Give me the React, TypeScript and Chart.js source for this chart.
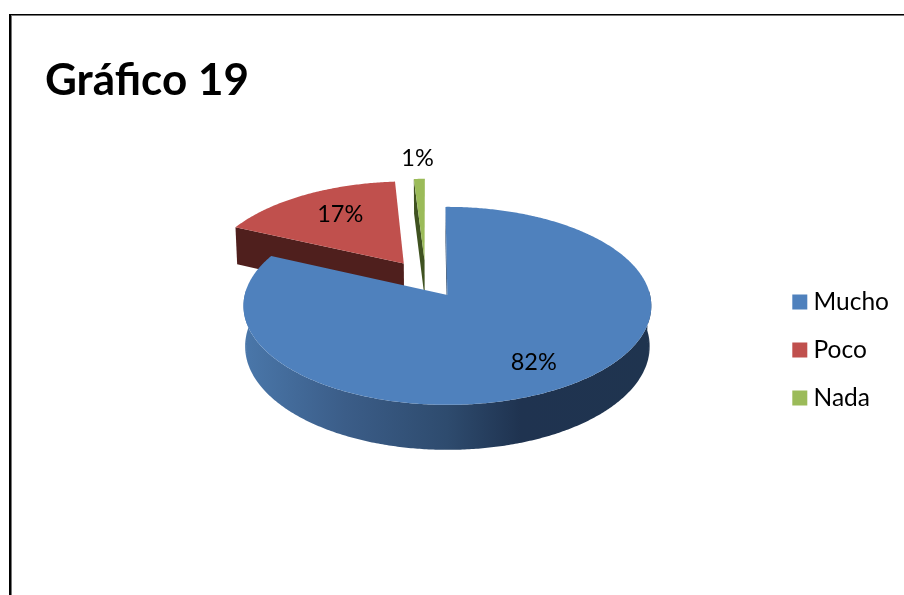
import { useEffect, useRef } from "react";
import { Chart, registerables } from "chart.js";

Chart.register(...registerables);

const categories = ["Mucho", "Poco", "Nada"];
const shares = [82, 17, 1];
const topColors = ["#4f81bd", "#c0504d", "#9bbb59"];
const wallColors = ["#1f344f", "#4f1f1d", "#3f5220"];
const labelRadii = [0.76, 0.7, 1.29];
const labelNudges = [-4, 7.5, -0.5];
const chartTitle = "Gráfico 19";

// Perspective camera for the tilted pie: unit disc to canvas pixels.
const camera = { x0: 447, y0: 295, ax: 202.7, ay: 97.8, k: 0.111, depth: 40, taper: 0.008 };
const pieCentre = { u: -0.107, v: 0.169 };
const explode = 0.2;

function project(u: number, v: number, z = 0) {
  const w = 1 + camera.k * v;
  return {
    x: camera.x0 + ((camera.ax * u) / w) * (1 - camera.taper * z),
    y: camera.y0 - (camera.ay * v) / w + (camera.depth * z) / w,
  };
}

type Pt = { x: number; y: number };

function addPolygon(ctx: CanvasRenderingContext2D, pts: Pt[]) {
  pts.forEach((p, i) => (i ? ctx.lineTo(p.x, p.y) : ctx.moveTo(p.x, p.y)));
  ctx.closePath();
}

// Replaces the flat arcs with extruded wedges, using the angles Chart.js computed.
const tiltedPie = {
  id: "tiltedPie",
  beforeDatasetsDraw(chart: Chart) {
    const ctx = chart.ctx;
    const meta = chart.getDatasetMeta(0);
    const wedges = meta.data.map((el: any, i: number) => {
      const a0 = el.startAngle + Math.PI / 2;
      const a1 = el.endAngle + Math.PI / 2;
      const mid = (a0 + a1) / 2;
      const apex = {
        u: pieCentre.u + explode * Math.sin(mid),
        v: pieCentre.v + explode * Math.cos(mid),
      };
      const steps = Math.max(4, Math.ceil((a1 - a0) / 0.01));
      const rim: { u: number; v: number; a: number }[] = [];
      for (let s = 0; s <= steps; s++) {
        const a = a0 + ((a1 - a0) * s) / steps;
        rim.push({ u: apex.u + Math.sin(a), v: apex.v + Math.cos(a), a });
      }
      return { i, mid, apex, rim };
    });

    const wallGradient = ctx.createLinearGradient(243, 0, 651, 0);
    wallGradient.addColorStop(0, "#4a77aa");
    wallGradient.addColorStop(0.25, "#3b5d88");
    wallGradient.addColorStop(0.5, "#2e4b6e");
    wallGradient.addColorStop(0.68, "#1f3350");
    wallGradient.addColorStop(1, "#1f344f");

    // Back slices first, the large front slice last.
    [1, 2, 0].forEach((idx) => {
      const { i, apex, rim } = wedges[idx];
      ctx.fillStyle = i === 0 ? wallGradient : wallColors[i];

      // Outer wall: one quad per step, only where the rim faces the viewer.
      ctx.beginPath();
      for (let s = 0; s < rim.length - 1; s++) {
        const p = rim[s];
        const q = rim[s + 1];
        if (Math.cos(p.a) > 0.05) continue;
        addPolygon(ctx, [
          project(p.u, p.v),
          project(q.u, q.v),
          project(q.u, q.v, 1),
          project(p.u, p.v, 1),
        ]);
      }
      ctx.fill();

      // Cut face along the leading edge of the slice.
      const first = rim[0];
      ctx.beginPath();
      addPolygon(ctx, [
        project(first.u, first.v),
        project(apex.u, apex.v),
        project(apex.u, apex.v, 1),
        project(first.u, first.v, 1),
      ]);
      ctx.fill();

      ctx.fillStyle = topColors[i];
      ctx.beginPath();
      addPolygon(ctx, [project(apex.u, apex.v), ...rim.map((p) => project(p.u, p.v))]);
      ctx.fill();
    });

    ctx.save();
    ctx.fillStyle = "#000000";
    ctx.font = "23.5px Lato";
    ctx.textAlign = "center";
    ctx.textBaseline = "middle";
    wedges.forEach(({ i, mid, apex }) => {
      const p = project(
        apex.u + labelRadii[i] * Math.sin(mid),
        apex.v + labelRadii[i] * Math.cos(mid),
      );
      ctx.fillText(`${shares[i]}%`, p.x + labelNudges[i], p.y);
    });
    ctx.restore();
    return false;
  },
};

// Open page frame: only the top and left rules fall inside the canvas.
const pageFrame = {
  id: "pageFrame",
  beforeDraw(chart: Chart) {
    const ctx = chart.ctx;
    ctx.save();
    ctx.fillStyle = "#777777";
    ctx.fillRect(9, 15, chart.width - 9, 1);
    ctx.fillRect(11, 14, 1, chart.height - 14);
    ctx.fillStyle = "#000000";
    ctx.fillRect(9, 14, chart.width - 9, 1);
    ctx.fillRect(9, 14, 2, chart.height - 14);
    ctx.restore();
  },
};

export default function App() {
  const ref = useRef<HTMLCanvasElement>(null);

  useEffect(() => {
    const chart = new Chart(ref.current!, {
      type: "pie",
      data: {
        labels: categories,
        datasets: [{ data: shares, backgroundColor: topColors, borderWidth: 0 }],
      },
      options: {
        responsive: false,
        animation: false,
        rotation: -0.6,
        layout: { padding: { left: 45, right: 5, top: 0, bottom: 0 } },
        plugins: {
          title: {
            display: true,
            text: chartTitle,
            align: "start",
            color: "#000000",
            font: { family: "Lato", size: 44, weight: "bold", lineHeight: 1 },
            padding: { top: 59, bottom: 2 },
          },
          legend: {
            position: "right",
            fullSize: false,
            labels: {
              color: "#000000",
              font: { family: "Lato", size: 24.5 },
              usePointStyle: true,
              pointStyle: "rect",
              boxWidth: 3,
              boxHeight: 15,
              padding: 23.5,
            },
          },
          tooltip: { enabled: false },
        },
      },
      plugins: [pageFrame, tiltedPie],
    });
    return () => chart.destroy();
  }, []);

  return (
    <div style={{ position: "absolute", left: 0, top: 0, width: 904, height: 595, background: "#ffffff" }}>
      <canvas ref={ref} width={904} height={595} style={{ display: "block" }} />
    </div>
  );
}
